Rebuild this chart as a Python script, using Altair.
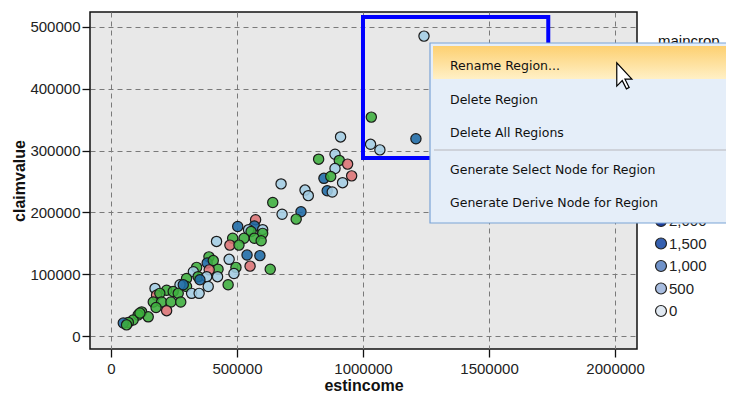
import altair as alt
import pandas as pd

# ---- data ----
estincome = [911000, 824000, 889000, 906000, 939000, 889000, 955000, 845000, 872000, 919000,
             858000, 878000, 675000, 770000, 783000, 642000, 679000, 754000, 735000, 574000,
             503000, 569000, 546000, 602000, 556000, 602000, 483000, 528000, 569000, 596000,
             419000, 472000, 508000, 540000, 591000, 389000, 382000, 406000, 469000, 425000,
             390000, 496000, 488000, 552000, 632000, 340000, 327000, 346000, 380000, 423000,
             300000, 353000, 465000, 386000, 300000, 274000, 320000, 350000, 175000, 181000,
             221000, 247000, 267000, 194000, 168000, 201000, 238000, 277000, 179000, 221000,
             122000, 148000, 108000, 88000, 69000, 49000, 62000, 115000, 287000,
             1242000, 1033000, 1030000, 1067000, 1210000]
claimvalue = [322000, 286000, 294000, 284000, 278000, 271000, 259000, 255000, 258000, 248000,
              235000, 233000, 246000, 236000, 227000, 216000, 197000, 201000, 189000, 188000,
              177000, 178000, 172000, 172000, 169000, 166000, 158000, 158000, 158000, 154000,
              153000, 147000, 147000, 131000, 130000, 128000, 118000, 122000, 124000, 108000,
              107000, 111000, 101000, 113000, 108000, 111000, 104000, 96000, 96000, 96000,
              93000, 91000, 83000, 80000, 80000, 83000, 69000, 69000, 77000, 66000,
              74000, 72000, 69000, 69000, 55000, 55000, 55000, 55000, 46000, 41000,
              39000, 31000, 34000, 26000, 22000, 21000, 18000, 37000, 83000,
              485000, 354000, 310000, 301000, 319000]
maincrop = ["LB", "G", "LB", "G", "R", "LB", "R", "DB", "G", "LB",
            "DB", "LB", "LB", "LB", "LB", "G", "LB", "DB", "G", "R",
            "DB", "DB", "LB", "LB", "G", "G", "G", "G", "G", "G",
            "LB", "R", "G", "DB", "DB", "G", "DB", "G", "LB", "G",
            "R", "G", "LB", "R", "G", "G", "LB", "G", "LB", "LB",
            "G", "DB", "G", "LB", "G", "LB", "LB", "LB", "LB", "R",
            "G", "G", "G", "G", "G", "G", "G", "G", "G", "R",
            "G", "G", "G", "G", "G", "DB", "G", "G", "DB",
            "LB", "G", "LB", "LB", "DB"]
crop_codes = ["LB", "DB", "G", "R"]
crop_colors = ["#a3cde4", "#1d6aa6", "#3cae3c", "#dc7274"]

x_ticks = [0, 500000, 1000000, 1500000, 2000000]
y_ticks = [0, 100000, 200000, 300000, 400000, 500000]
x_domain = [-83000, 2087000]
y_domain = [-21000, 524000]

region_x = [1000000, 1735000]
region_y = [288000, 516000]

legend_labels = ["2,000", "1,500", "1,000", "500", "0"]
legend_colors = ["#1d3f9e", "#3560b0", "#6f92c9", "#a8bde0", "#e1e9f2"]

menu_items = ["Rename Region...", "Delete Region", "Delete All Regions",
              "Generate Select Node for Region", "Generate Derive Node for Region"]

# ---- layout (pixels, plot coordinates) ----
W, H = 547, 337
FONT = "Liberation Sans"
LEG_X, LEG_Y0, LEG_DY = 571, 209, 22.5
MENU_TEXT_X = 360
MENU_ROWS = [54, 88, 121, 158, 191]

df = pd.DataFrame({"estincome": estincome, "claimvalue": claimvalue, "maincrop": maincrop})

xs = alt.Scale(domain=x_domain, nice=False, zero=False)
ys = alt.Scale(domain=y_domain, nice=False, zero=False)

axis_common = dict(labelFont=FONT, labelFontSize=15, labelColor="#222", tickColor="#111",
                   tickSize=8, tickWidth=1.3, domain=False, grid=True, gridColor="#7a7a7a",
                   gridDash=[5, 4], gridWidth=1, titleFont=FONT, titleFontSize=16,
                   titleFontWeight="bold", titleColor="#111", format="d", labelFlush=False)

scatter = alt.Chart(df).mark_point(
    filled=True, size=105, stroke="#1a1a1a", strokeWidth=1.2, fillOpacity=0.88, opacity=1
).encode(
    x=alt.X("estincome:Q", scale=xs,
            axis=alt.Axis(values=x_ticks, title="estincome", labelPadding=4, titlePadding=1, **axis_common)),
    y=alt.Y("claimvalue:Q", scale=ys,
            axis=alt.Axis(values=y_ticks, title="claimvalue", labelPadding=2, titlePadding=2, **axis_common)),
    color=alt.Color("maincrop:N", scale=alt.Scale(domain=crop_codes, range=crop_colors), legend=None),
)

region_df = pd.DataFrame({"estincome": [region_x[0]], "estincome_end": [region_x[1]],
                          "claimvalue": [region_y[0]], "claimvalue_end": [region_y[1]]})
region = alt.Chart(region_df).mark_rect(fillOpacity=0, stroke="#0000ff", strokeWidth=4).encode(
    x=alt.X("estincome:Q", scale=xs), x2="estincome_end:Q",
    y=alt.Y("claimvalue:Q", scale=ys), y2="claimvalue_end:Q",
)

one = pd.DataFrame({"a": [1]})
layers = [scatter, region]

# legend (mostly hidden by the menu)
layers.append(alt.Chart(one).mark_text(
    text="maincrop", font=FONT, fontSize=15, align="left", baseline="middle", color="#111"
).encode(x=alt.value(568), y=alt.value(29)))
for i, (lab, col) in enumerate(zip(legend_labels, legend_colors)):
    yy = LEG_Y0 + i * LEG_DY
    layers.append(alt.Chart(one).mark_point(
        filled=True, size=120, fill=col, stroke="#222", strokeWidth=1.2, opacity=1
    ).encode(x=alt.value(LEG_X), y=alt.value(yy)))
    layers.append(alt.Chart(one).mark_text(
        text=lab, font=FONT, fontSize=15, align="left", baseline="middle", color="#222"
    ).encode(x=alt.value(LEG_X + 8), y=alt.value(yy)))

# context menu
layers.append(alt.Chart(one).mark_rect(fill="#e5eef9", stroke="#7aa3d6", strokeWidth=1.2).encode(
    x=alt.value(340), x2=alt.value(660), y=alt.value(31), y2=alt.value(211)))
layers.append(alt.Chart(one).mark_rect(
    fill={"gradient": "linear", "x1": 0, "y1": 0, "x2": 0, "y2": 1,
          "stops": [{"offset": 0, "color": "#fdd071"}, {"offset": 1, "color": "#fff0c6"}]}
).encode(x=alt.value(343), x2=alt.value(660), y=alt.value(34), y2=alt.value(67)))
layers.append(alt.Chart(one).mark_rule(color="#c6c9cf", strokeWidth=1.5).encode(
    x=alt.value(344), x2=alt.value(660), y=alt.value(138)))
for item, yy in zip(menu_items, MENU_ROWS):
    layers.append(alt.Chart(one).mark_text(
        text=item, font="DejaVu Sans", fontSize=12.5, align="left", baseline="middle", color="#111"
    ).encode(x=alt.value(MENU_TEXT_X), y=alt.value(yy)))

cursor_path = "M-1,-1L-1,0.764L-0.586,0.35L-0.271,0.971L-0.064,0.864L-0.379,0.243L0.143,0.243Z"
layers.append(alt.Chart(one).mark_point(
    shape=cursor_path, filled=True, fill="white", stroke="black", strokeWidth=1.2, size=700, opacity=1
).encode(x=alt.value(540), y=alt.value(64)))

chart = alt.layer(*layers).properties(
    width=W, height=H, autosize=alt.AutoSizeParams(type="none"),
    padding={"left": 82, "top": 4, "right": 89, "bottom": 45},
).configure_view(
    stroke="#111", strokeWidth=1.5, fill="#e8e8e8"
)

chart.save("out.html", embed_options={"renderer": "svg", "actions": False})
